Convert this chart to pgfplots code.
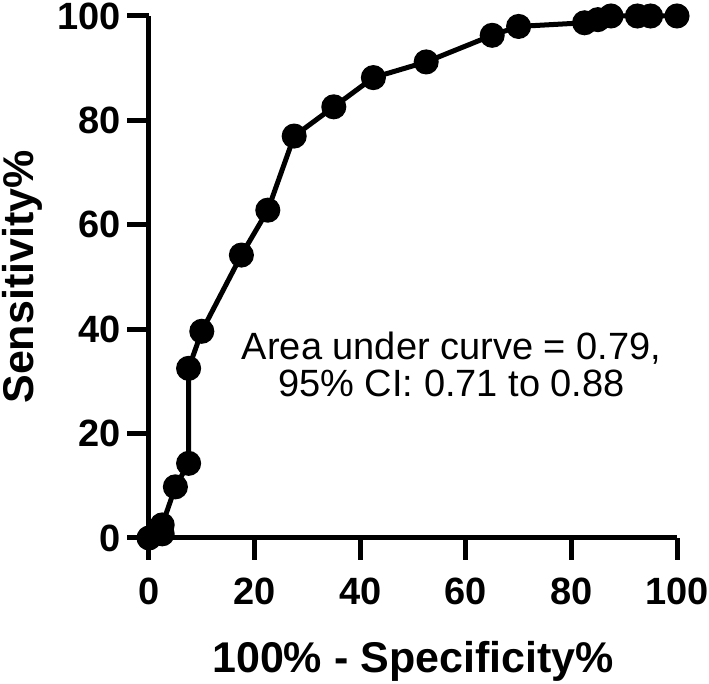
\documentclass[border=0pt]{standalone}
\usepackage{pgfplots}
\pgfplotsset{compat=1.18}
\usepackage{fontspec}
\setmainfont{Liberation Sans}
\usetikzlibrary{calc}
\begin{document}
\begin{tikzpicture}
\begin{axis}[
  width=528pt, height=522pt, scale only axis,
  xmin=0, xmax=100, ymin=0, ymax=100,
  axis x line=bottom, axis y line=left,
  axis line style={line width=5pt, -},
  every tick/.style={line width=5pt, black},
  tick align=outside, major tick length=22pt,
  xtick={0,20,...,100}, ytick={0,20,...,100},
  clip=false,
  /pgf/number format/assume math mode=true,
  ticklabel style={font=\fontsize{38}{38}\selectfont\bfseries},
  xticklabel style={yshift=-14pt},
  yticklabel style={xshift=-3pt},
  xlabel={100\% - Specificity\%},
  ylabel={Sensitivity\%},
  label style={font=\fontsize{43}{43}\selectfont\bfseries},
  xlabel style={yshift=-30pt},
  ylabel style={yshift=8pt},
]
\addplot[black, line width=5pt, mark=*, mark size=10pt, mark options={solid, fill=black}] coordinates {
(0,0) (2.5,0.8) (2.5,2.5) (5,9.8) (7.5,14.3) (7.5,32.5) (10,39.6)
(17.5,54.2) (22.5,62.8) (27.5,77) (35,82.6) (42.5,88.2) (52.5,91.2)
(65,96.3) (70,98) (82.5,98.7) (85,99.3) (87.5,100) (92.5,100) (95,100) (100,100)
};
\node[align=center, font=\fontsize{38}{37}\selectfont, inner sep=0pt] at (axis cs:57.3,33.3) {Area under curve = 0.79,\\95\% CI: 0.71 to 0.88};
\end{axis}
\pgfresetboundingbox
\useasboundingbox ($(current axis.south west)+(-149pt,-146pt)$) rectangle ($(current axis.north east)+(32pt,16pt)$);
\end{tikzpicture}
\end{document}
